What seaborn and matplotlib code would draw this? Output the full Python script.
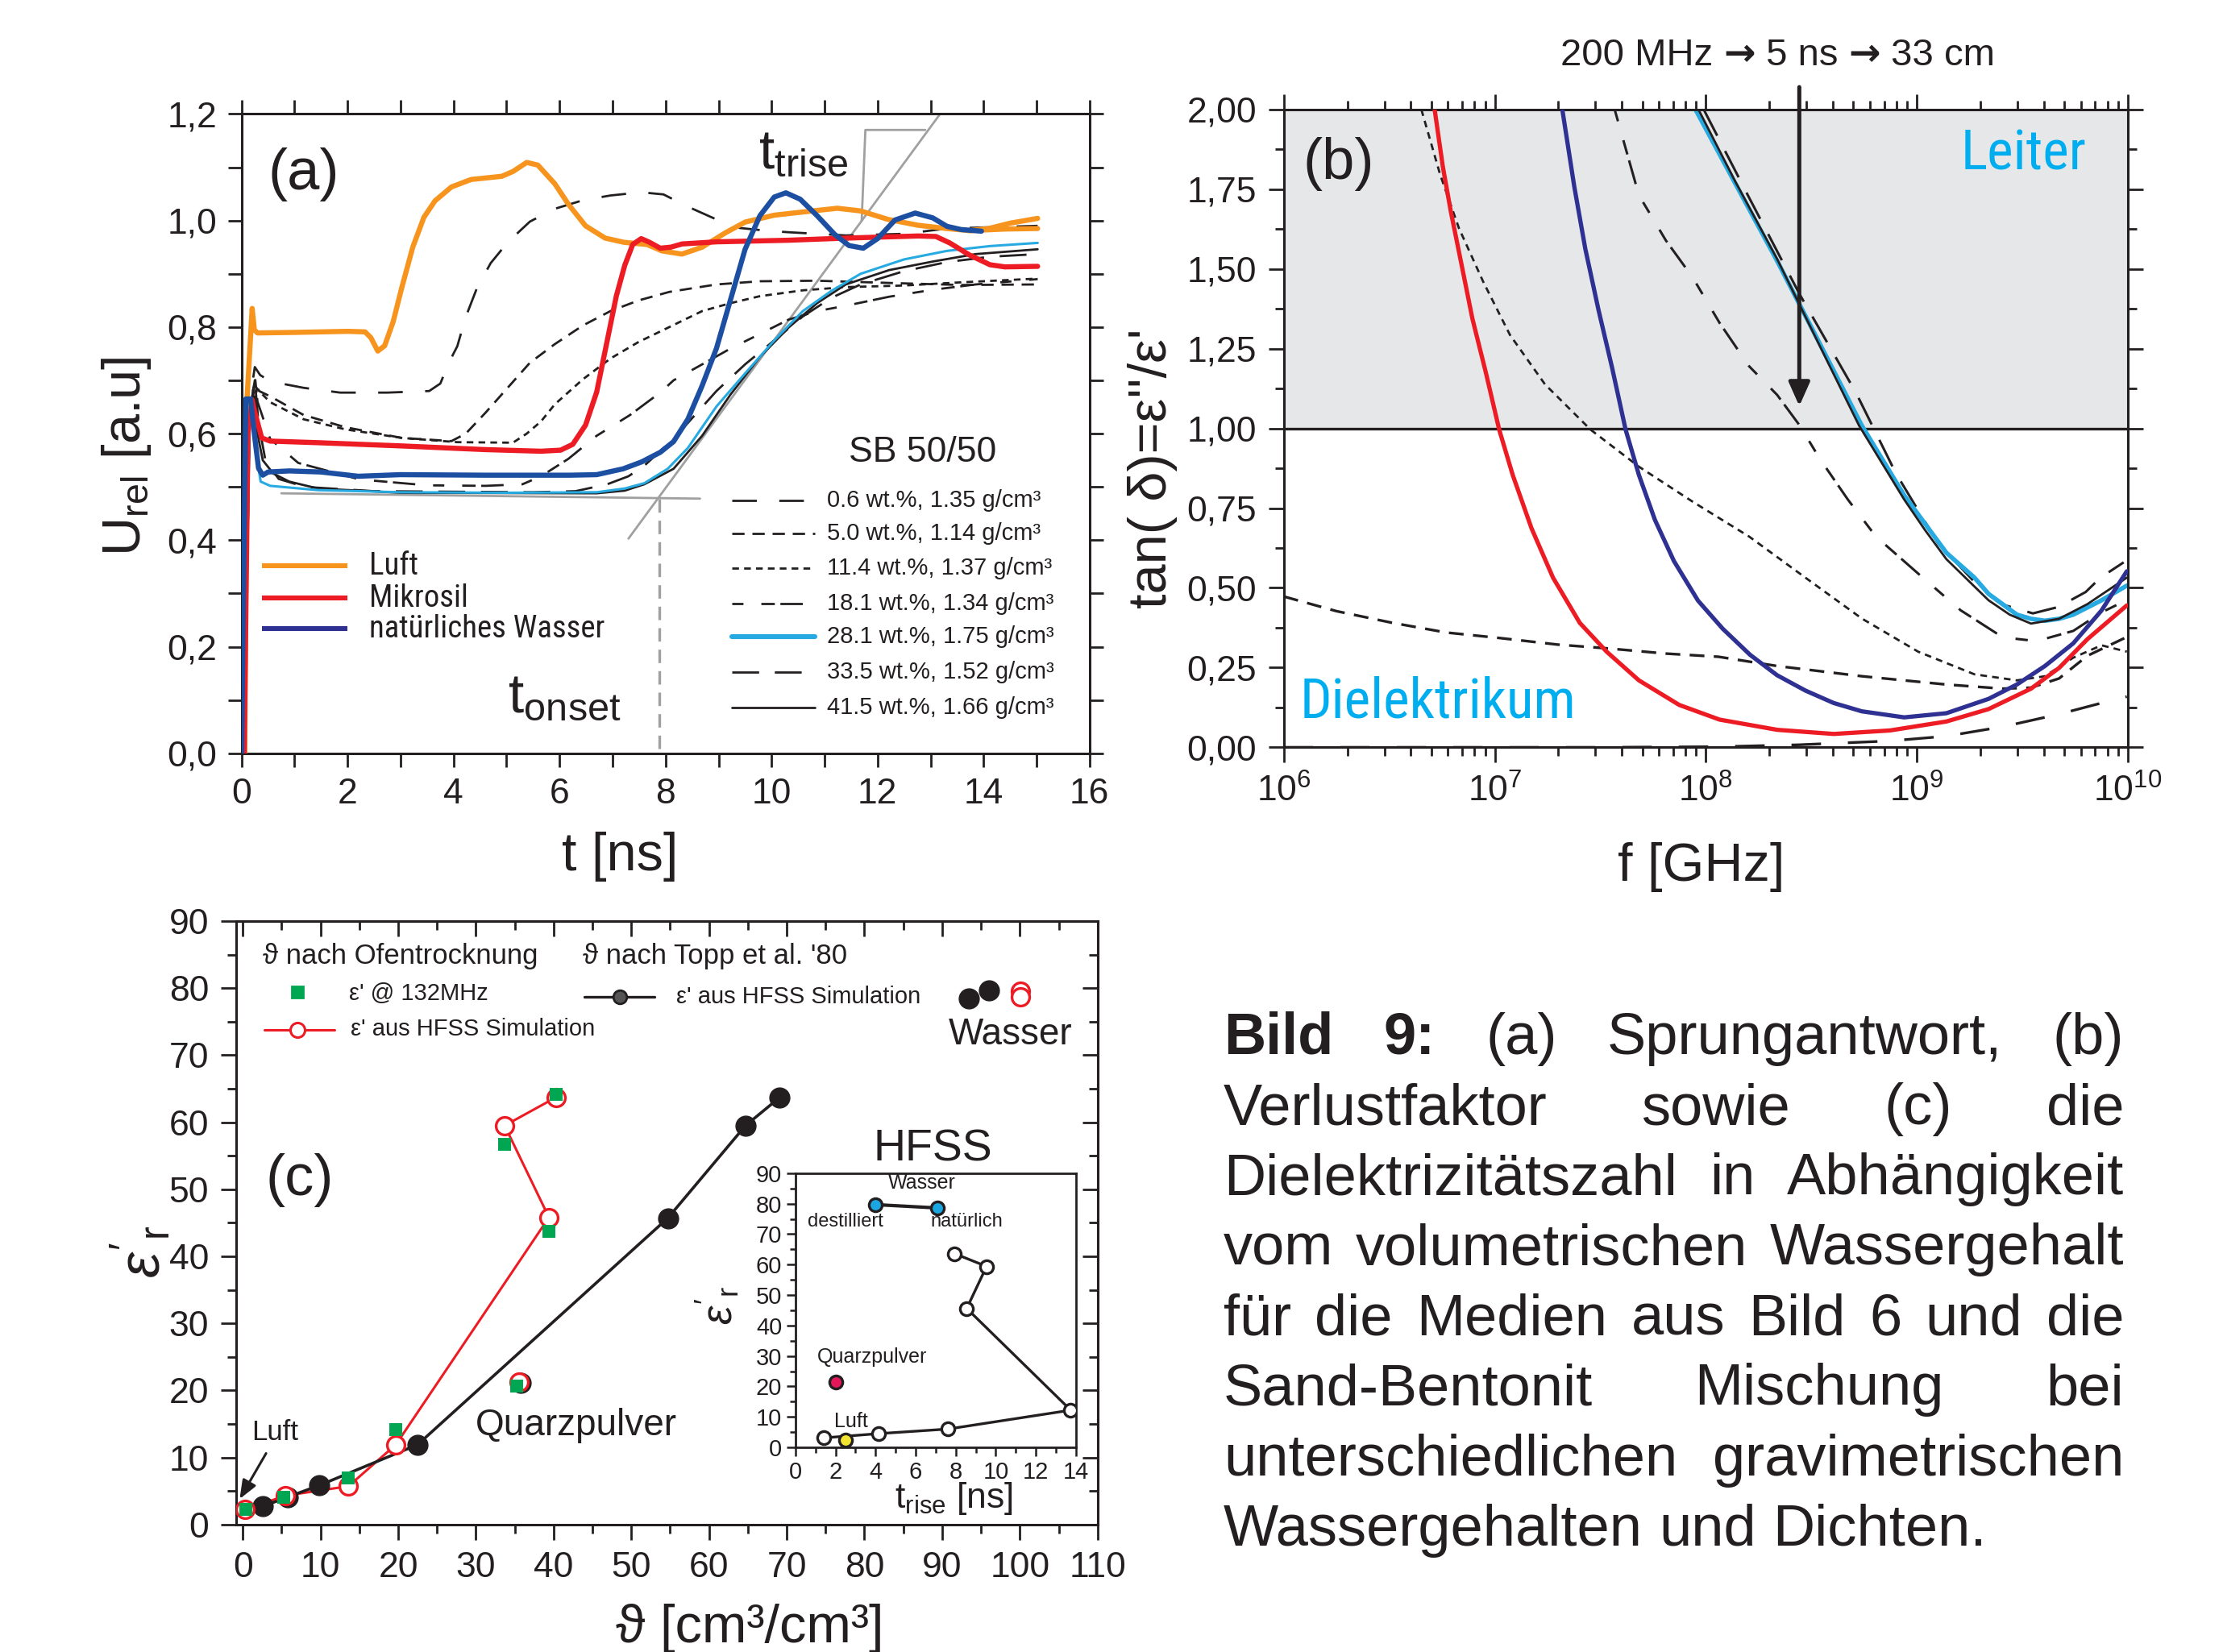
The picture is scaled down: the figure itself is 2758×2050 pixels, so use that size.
import numpy as np
import matplotlib
matplotlib.use("Agg")
import matplotlib.pyplot as plt
from matplotlib import font_manager
from matplotlib.lines import Line2D
from matplotlib.offsetbox import TextArea, HPacker, AnnotationBbox
from matplotlib.ticker import MultipleLocator, LogLocator, FuncFormatter, NullFormatter
import seaborn as sns

sns.set_theme(style="ticks")
plt.rcParams["font.family"] = ["Liberation Sans", "DejaVu Sans"]
plt.rcParams["mathtext.fontset"] = "custom"
plt.rcParams["mathtext.rm"] = "Liberation Sans"
plt.rcParams["mathtext.it"] = "Liberation Sans:italic"
plt.rcParams["mathtext.bf"] = "Liberation Sans:bold"
plt.rcParams["axes.unicode_minus"] = False

_names = {f.name for f in font_manager.fontManager.ttflist}
NARROW = next((n for n in ("Liberation Sans Narrow", "Roboto Condensed", "Open Sans Condensed")
               if n in _names), "Liberation Sans")

# ---------------------------------------------------------------- colours
INK = "#231f20"
ORANGE = "#f7941d"
RED = "#ed1c24"
BLUE_A = "#1c4fa1"
NAVY = "#2e3192"
CYAN = "#27aae1"
GREEN = "#00a651"
GREY = "#a0a0a0"
SHADE = "#e6e7e8"
TXT_CYAN = "#00aeef"

# ------------------------------------------------ (a) step response U_rel(t)
t_luft = [0.06, 0.10, 0.20, 0.24, 0.30, 1.0, 2.0, 2.33, 2.44, 2.57, 2.70, 2.86, 3.02, 3.23, 3.44,
          3.65, 3.96, 4.33, 4.91, 5.12, 5.38, 5.59, 5.91, 6.17, 6.49, 6.86, 7.22, 7.65, 7.93,
          8.31, 8.69, 9.13, 9.50, 10.05, 10.59, 11.24, 11.68, 12.20, 12.77, 13.30, 13.74,
          14.10, 14.50, 15.02]
u_luft = [0.0, 0.66, 0.835, 0.795, 0.789, 0.790, 0.792, 0.791, 0.780, 0.755, 0.765, 0.810,
          0.873, 0.950, 1.006, 1.037, 1.063, 1.077, 1.083, 1.092, 1.109, 1.104, 1.069, 1.030,
          0.990, 0.967, 0.959, 0.955, 0.943, 0.937, 0.950, 0.977, 0.997, 1.010, 1.016, 1.023,
          1.018, 1.002, 0.991, 0.985, 0.981, 0.985, 0.995, 1.004]
t_luft_b = [13.74, 14.40, 15.02]
u_luft_b = [0.981, 0.984, 0.985]

t_mikrosil = [0.05, 0.12, 0.20, 0.25, 0.38, 0.54, 1.44, 3.00, 4.60, 5.65, 6.02, 6.25, 6.49,
              6.70, 6.91, 7.07, 7.23, 7.38, 7.54, 7.70, 7.90, 8.10, 8.31, 8.96, 10.32, 11.40,
              12.77, 13.10, 13.36, 13.74, 14.12, 14.40, 15.02]
u_mikrosil = [0.0, 0.60, 0.663, 0.640, 0.592, 0.586, 0.583, 0.577, 0.570, 0.567, 0.569, 0.580,
              0.616, 0.678, 0.780, 0.858, 0.916, 0.955, 0.966, 0.959, 0.948, 0.950, 0.956,
              0.960, 0.963, 0.967, 0.971, 0.970, 0.958, 0.935, 0.917, 0.913, 0.914]

t_wasser = [0.0, 0.08, 0.17, 0.24, 0.32, 0.40, 0.50, 0.90, 1.50, 2.20, 3.00, 4.60, 6.20, 6.70,
            7.20, 7.55, 7.90, 8.15, 8.42, 8.69, 8.96, 9.23, 9.50, 9.78, 10.05, 10.27, 10.54,
            10.86, 11.19, 11.46, 11.73, 12.00, 12.33, 12.71, 13.04, 13.31, 13.58, 13.96]
u_wasser = [0.0, 0.665, 0.665, 0.600, 0.535, 0.522, 0.528, 0.530, 0.528, 0.520, 0.523, 0.522,
            0.522, 0.523, 0.534, 0.547, 0.565, 0.585, 0.627, 0.690, 0.760, 0.853, 0.946, 1.009,
            1.044, 1.052, 1.040, 1.009, 0.974, 0.953, 0.948, 0.966, 1.001, 1.014, 1.005, 0.989,
            0.983, 0.980]

t_sb06 = [0.05, 0.15, 0.25, 0.35, 0.54, 1.17, 1.86, 2.75, 3.54, 3.75, 3.91, 4.07, 4.23, 4.44,
          4.70, 5.02, 5.44, 5.91, 6.44, 6.96, 7.54, 7.96, 8.42, 8.96, 9.40, 9.89, 10.32, 11.40,
          12.50, 13.31, 15.02]
u_sb06 = [0.0, 0.66, 0.725, 0.710, 0.698, 0.686, 0.677, 0.677, 0.680, 0.694, 0.733, 0.764,
          0.819, 0.873, 0.920, 0.959, 0.998, 1.022, 1.038, 1.047, 1.053, 1.049, 1.026, 1.002,
          0.986, 0.981, 0.978, 0.972, 0.975, 0.985, 0.990]

t_sb50 = [0.05, 0.15, 0.25, 0.33, 0.54, 1.17, 1.96, 3.02, 3.96, 4.23, 4.60, 5.02, 5.44, 5.91,
          6.44, 6.96, 7.49, 8.07, 8.96, 9.78, 10.86, 12.50, 13.58, 15.02]
u_sb50 = [0.0, 0.64, 0.70, 0.68, 0.67, 0.635, 0.612, 0.592, 0.586, 0.600, 0.639, 0.686, 0.733,
          0.768, 0.803, 0.830, 0.850, 0.866, 0.880, 0.886, 0.887, 0.882, 0.879, 0.880]

t_sb114 = [0.05, 0.15, 0.25, 0.33, 0.54, 1.17, 1.96, 3.02, 4.07, 5.12, 5.38, 5.65, 5.91, 6.44,
           6.96, 7.49, 8.07, 8.69, 9.23, 9.78, 10.59, 11.40, 12.50, 13.58, 15.02]
u_sb114 = [0.0, 0.63, 0.69, 0.68, 0.659, 0.627, 0.608, 0.592, 0.584, 0.583, 0.600, 0.623, 0.655,
           0.702, 0.741, 0.772, 0.800, 0.830, 0.845, 0.858, 0.869, 0.875, 0.878, 0.884, 0.891]

t_sb181 = [0.05, 0.15, 0.25, 0.30, 0.54, 1.07, 2.23, 3.50, 4.60, 5.30, 5.65, 6.17, 6.70, 7.33,
           7.91, 8.15, 8.69, 9.23, 9.78, 10.32, 10.86, 11.40, 12.22, 13.04, 13.85, 15.02]
u_sb181 = [0.0, 0.62, 0.71, 0.66, 0.59, 0.545, 0.514, 0.503, 0.502, 0.505, 0.520, 0.553, 0.596,
           0.635, 0.678, 0.700, 0.730, 0.760, 0.787, 0.814, 0.830, 0.840, 0.857, 0.870, 0.880,
           0.890]

t_sb281 = [0.05, 0.15, 0.22, 0.28, 0.36, 0.54, 1.44, 3.00, 5.00, 6.70, 7.23, 7.60, 8.04, 8.42,
           8.96, 9.50, 10.05, 10.59, 11.13, 11.68, 12.50, 13.31, 14.12, 15.02]
u_sb281 = [0.0, 0.62, 0.655, 0.56, 0.51, 0.502, 0.494, 0.490, 0.489, 0.490, 0.497, 0.507, 0.534,
           0.573, 0.651, 0.713, 0.775, 0.830, 0.868, 0.900, 0.927, 0.943, 0.952, 0.958]

t_sb335 = [0.05, 0.15, 0.25, 0.32, 0.45, 0.70, 1.20, 2.50, 5.50, 6.30, 6.90, 7.30, 7.60, 8.15,
           8.42, 8.96, 9.50, 10.05, 10.59, 11.13, 11.68, 12.50, 13.31, 14.12, 15.02]
u_sb335 = [0.0, 0.64, 0.70, 0.62, 0.55, 0.515, 0.500, 0.492, 0.490, 0.492, 0.505, 0.520, 0.540,
           0.590, 0.620, 0.680, 0.730, 0.775, 0.820, 0.855, 0.880, 0.905, 0.922, 0.932, 0.937]

t_sb415 = [0.05, 0.15, 0.25, 0.30, 0.40, 0.60, 0.90, 1.44, 3.00, 6.70, 7.23, 7.60, 8.15, 8.69,
           9.23, 9.78, 10.32, 10.86, 11.40, 12.22, 13.04, 13.85, 15.02]
u_sb415 = [0.0, 0.62, 0.67, 0.60, 0.55, 0.525, 0.510, 0.497, 0.489, 0.488, 0.493, 0.505, 0.534,
           0.596, 0.674, 0.744, 0.799, 0.845, 0.880, 0.907, 0.923, 0.937, 0.946]

# construction lines for t_onset / t_rise
base_t = [0.75, 8.65]
base_u = [0.488, 0.478]
tangent_t = [7.30, 13.18]
tangent_u = [0.403, 1.200]
onset_t = [7.88, 7.88]
onset_u = [0.478, 0.0]
bracket_t = [11.70, 11.77, 12.90]
bracket_u = [1.000, 1.170, 1.170]

sb_labels = ["0.6 wt.%, 1.35 g/cm³", "5.0 wt.%, 1.14 g/cm³", "11.4 wt.%, 1.37 g/cm³",
             "18.1 wt.%, 1.34 g/cm³", "28.1 wt.%, 1.75 g/cm³", "33.5 wt.%, 1.52 g/cm³",
             "41.5 wt.%, 1.66 g/cm³"]
media_labels = ["Luft", "Mikrosil", "natürliches Wasser"]

# ---------------------------------------------- (b) loss tangent over log10(f)
lgf_mikrosil = [6.715, 6.754, 6.792, 6.843, 6.894, 6.957, 7.021, 7.085, 7.174, 7.276, 7.403,
                7.530, 7.683, 7.874, 8.065, 8.338, 8.606, 8.873, 9.140, 9.340, 9.541, 9.674,
                9.808, 9.995]
tan_mikrosil = [2.0, 1.82, 1.679, 1.512, 1.344, 1.177, 0.996, 0.854, 0.687, 0.532, 0.390,
                0.300, 0.210, 0.133, 0.087, 0.055, 0.042, 0.053, 0.081, 0.120, 0.184, 0.249,
                0.339, 0.445]
lgf_wasser = [7.320, 7.377, 7.429, 7.492, 7.556, 7.620, 7.683, 7.759, 7.849, 7.963, 8.080,
              8.210, 8.338, 8.472, 8.606, 8.739, 8.940, 9.140, 9.340, 9.474, 9.607, 9.741,
              9.875, 9.995]
tan_wasser = [2.0, 1.757, 1.563, 1.370, 1.190, 0.996, 0.854, 0.713, 0.584, 0.460, 0.372, 0.290,
              0.226, 0.178, 0.139, 0.113, 0.094, 0.107, 0.152, 0.197, 0.255, 0.326, 0.429,
              0.552]
lgf_sb06 = [6.0, 7.5, 8.06, 8.44, 8.87, 9.14, 9.41, 9.674, 9.875, 9.995]
tan_sb06 = [0.0, 0.0, 0.002, 0.008, 0.020, 0.035, 0.065, 0.104, 0.139, 0.159]
lgf_sb50 = [6.0, 6.25, 6.51, 6.77, 7.02, 7.30, 7.54, 7.81, 8.06, 8.338, 8.739, 9.14, 9.407,
            9.54, 9.674, 9.808, 9.995]
tan_sb50 = [0.473, 0.427, 0.391, 0.360, 0.343, 0.322, 0.310, 0.294, 0.284, 0.255, 0.223, 0.197,
            0.184, 0.187, 0.216, 0.287, 0.346]
lgf_sb114 = [6.652, 6.741, 6.830, 6.945, 7.072, 7.238, 7.454, 7.683, 7.938, 8.205, 8.472, 8.739,
             9.006, 9.273, 9.474, 9.607, 9.741, 9.875, 9.995]
tan_sb114 = [2.0, 1.796, 1.628, 1.460, 1.293, 1.138, 0.996, 0.880, 0.770, 0.661, 0.532, 0.404,
             0.300, 0.229, 0.210, 0.223, 0.281, 0.320, 0.300]
lgf_sb181 = [7.568, 7.683, 7.811, 7.938, 8.065, 8.205, 8.338, 8.445, 8.539, 8.673, 8.806, 9.006,
             9.207, 9.407, 9.567, 9.741, 9.875, 9.995]
tan_sb181 = [2.0, 1.731, 1.589, 1.473, 1.331, 1.195, 1.105, 1.009, 0.906, 0.777, 0.661, 0.545,
             0.430, 0.345, 0.333, 0.365, 0.423, 0.462]
lgf_sb281 = [7.951, 8.138, 8.338, 8.539, 8.739, 8.940, 9.140, 9.273, 9.340, 9.474, 9.541, 9.607,
             9.674, 9.741, 9.875, 9.995]
tan_sb281 = [2.0, 1.770, 1.525, 1.267, 1.009, 0.790, 0.610, 0.532, 0.481, 0.416, 0.403, 0.397,
             0.403, 0.416, 0.461, 0.507]
lgf_sb335 = [7.99, 8.20, 8.445, 8.713, 8.90, 9.10, 9.30, 9.42, 9.55, 9.67, 9.80, 9.87, 9.98]
tan_sb335 = [2.0, 1.73, 1.42, 1.11, 0.86, 0.64, 0.50, 0.445, 0.42, 0.44, 0.487, 0.532, 0.58]
lgf_sb415 = [7.965, 8.138, 8.338, 8.539, 8.726, 8.940, 9.040, 9.140, 9.340, 9.440, 9.541, 9.674,
             9.808, 9.995]
tan_sb415 = [2.0, 1.776, 1.531, 1.260, 1.009, 0.777, 0.680, 0.590, 0.461, 0.416, 0.388, 0.403,
             0.449, 0.532]
lgf_marker = 8.443          # 200 MHz -> 5 ns -> 33 cm

# ------------------------------------------ (c) permittivity vs. water content
theta_ofen_132 = [0.4, 5.3, 13.6, 19.7, 33.7, 39.4, 40.3]
eps_132 = [2.3, 4.1, 6.9, 14.2, 56.7, 43.7, 64.1]
theta_ofen_hfss = [0.3, 5.5, 13.6, 19.7, 39.4, 33.7, 40.3]
eps_ofen_hfss = [2.2, 4.3, 5.7, 11.9, 45.8, 59.5, 63.7]
theta_topp = [2.6, 5.8, 9.8, 22.5, 54.7, 64.7, 69.1]
eps_topp = [2.7, 4.1, 5.8, 11.9, 45.7, 59.5, 63.7]
quarz_theta = {"topp": 35.8, "ofen": 35.6, "132": 35.2}
quarz_eps = {"topp": 21.1, "ofen": 21.2, "132": 20.6}
wasser_theta_topp = [93.4, 96.0]
wasser_eps_topp = [78.5, 79.7]
wasser_theta_ofen = [100.1, 100.1]
wasser_eps_ofen = [79.6, 78.7]

# inset: HFSS permittivity vs. rise time
trise_sb = [1.41, 4.16, 7.61, 13.74, 8.55, 9.54, 7.95]
eps_trise_sb = [3.1, 4.5, 6.0, 12.2, 45.6, 59.4, 63.6]
trise_wasser = [3.99, 7.10]
eps_trise_wasser = [79.7, 78.6]
trise_quarz, eps_trise_quarz = [2.01], [21.4]
trise_luft, eps_trise_luft = [2.50], [2.3]

CAPTION = ["Bild 9: (a) Sprungantwort, (b)",
           "Verlustfaktor sowie (c) die",
           "Dielektrizitätszahl in Abhängigkeit",
           "vom volumetrischen Wassergehalt",
           "für die Medien aus Bild 6 und die",
           "Sand-Bentonit Mischung bei",
           "unterschiedlichen gravimetrischen",
           "Wassergehalten und Dichten."]

# ---------------------------------------------------------------- helpers
DASH_06 = (0, (11, 10))
DASH_50 = (0, (5.5, 3.5))
DASH_114 = (0, (3.0, 2.3))
DASH_181 = (0, (5, 8, 6, 2.5, 10, 8))
DASH_335 = (0, (12, 7))


def curve(ax, x, y, color, lw, ls="-", z=2):
    sns.lineplot(x=np.asarray(x, float), y=np.asarray(y, float), ax=ax, color=color,
                 linewidth=lw, linestyle=ls, sort=False, estimator=None, legend=False,
                 zorder=z)


def frame(ax, lw=1.1):
    for s in ax.spines.values():
        s.set_color(INK)
        s.set_linewidth(lw)
        s.set_visible(True)


def comma(fmt):
    return FuncFormatter(lambda v, p: format(v, fmt).replace(".", ","))


fig = plt.figure(figsize=(2758 / 200, 2050 / 200), dpi=200)
fig.patch.set_facecolor("white")

# ====================================================================== (a)
axa = fig.add_axes([0.10867, 0.54400, 0.38147, 0.38702])
axa.set_facecolor("white")
for x, y, ls in [(t_sb06, u_sb06, DASH_06), (t_sb50, u_sb50, DASH_50),
                 (t_sb114, u_sb114, DASH_114), (t_sb181, u_sb181, DASH_181),
                 (t_sb335, u_sb335, DASH_335)]:
    curve(axa, x, y, INK, 1.0, ls, z=2)
curve(axa, t_sb415, u_sb415, INK, 1.0, "-", z=2)
curve(axa, t_sb281, u_sb281, CYAN, 1.1, "-", z=2.1)
curve(axa, base_t, base_u, GREY, 1.0, "-", z=1.5)
curve(axa, tangent_t, tangent_u, GREY, 1.0, "-", z=1.5)
curve(axa, bracket_t, bracket_u, GREY, 1.0, "-", z=1.5)
curve(axa, onset_t, onset_u, GREY, 1.2, (0, (5, 3)), z=1.5)
curve(axa, t_luft, u_luft, ORANGE, 2.3, "-", z=3)
curve(axa, t_luft_b, u_luft_b, ORANGE, 2.3, "-", z=3)
curve(axa, t_mikrosil, u_mikrosil, RED, 2.3, "-", z=3.1)
curve(axa, t_wasser, u_wasser, BLUE_A, 2.3, "-", z=3.2)

axa.set_xlim(0, 16)
axa.set_ylim(0, 1.2)
axa.xaxis.set_major_locator(MultipleLocator(2))
axa.xaxis.set_minor_locator(MultipleLocator(1))
axa.yaxis.set_major_locator(MultipleLocator(0.2))
axa.yaxis.set_minor_locator(MultipleLocator(0.1))
axa.yaxis.set_major_formatter(comma(".1f"))
axa.tick_params(which="both", direction="out", top=True, right=True, color=INK,
                labelcolor=INK, labelsize=16, width=1.0, pad=5)
axa.tick_params(which="major", length=6)
axa.tick_params(which="minor", length=6)
axa.set_xlabel("")
axa.set_ylabel("")
frame(axa)
axa.text(0.446, -0.162, "t [ns]", transform=axa.transAxes, ha="center", va="center",
         fontsize=24, color=INK)
axa.text(-0.136, 0.465, r"$\mathregular{U_{rel}}$ [a.u]", transform=axa.transAxes,
         ha="center", va="center", rotation=90, fontsize=24, color=INK)
axa.text(1.17, 1.087, "(a)", ha="center", va="center", fontsize=26, color=INK)
axa.text(9.75, 1.098, r"$\mathregular{t_{trise}}$", ha="left", va="baseline", fontsize=25,
         color=INK)
axa.text(5.02, 0.077, r"$\mathregular{t_{onset}}$", ha="left", va="baseline", fontsize=25,
         color=INK)

# legend: media
for lab, col, u in zip(media_labels, [ORANGE, RED, NAVY], [0.352, 0.291, 0.234]):
    axa.add_line(Line2D([0.38, 2.0], [u, u], color=col, lw=2.2, solid_capstyle="butt"))
    axa.text(2.41, u, lab, ha="left", va="center", fontsize=14, family=NARROW, color=INK)

# legend: SB 50/50 samples
axa.text(12.85, 0.565, "SB 50/50", ha="center", va="center", fontsize=16, color=INK)
sb_styles = [(INK, 1.0, DASH_06), (INK, 1.0, DASH_50), (INK, 1.0, DASH_114),
             (INK, 1.0, DASH_181), (CYAN, 2.2, "-"), (INK, 1.0, DASH_335), (INK, 1.0, "-")]
sb_rows = [0.475, 0.413, 0.347, 0.281, 0.219, 0.153, 0.086]
for lab, (col, lw, ls), u in zip(sb_labels, sb_styles, sb_rows):
    axa.add_line(Line2D([9.25, 10.82], [u, u], color=col, lw=lw, linestyle=ls))
    axa.text(11.05, u, lab, ha="left", va="center", fontsize=10.5, color=INK)

# ====================================================================== (b)
axb = fig.add_axes([0.57748, 0.54761, 0.37973, 0.38615])
axb.set_xscale("log")
axb.set_xlim(1e6, 1e10)
axb.set_ylim(0, 2)
axb.axhspan(1.0, 2.0, color=SHADE, zorder=0, lw=0)
axb.axhline(1.0, color=INK, lw=1.2, zorder=1)


def fb(lg):
    return 10.0 ** np.asarray(lg, float)


curve(axb, fb(lgf_sb06), tan_sb06, INK, 1.2, DASH_06, z=2)
curve(axb, fb(lgf_sb50), tan_sb50, INK, 1.2, DASH_50, z=2)
curve(axb, fb(lgf_sb114), tan_sb114, INK, 1.0, DASH_114, z=2)
curve(axb, fb(lgf_sb181), tan_sb181, INK, 1.1, DASH_181, z=2)
curve(axb, fb(lgf_sb335), tan_sb335, INK, 1.1, DASH_335, z=2)
curve(axb, fb(lgf_sb415), tan_sb415, INK, 1.0, "-", z=2.2)
curve(axb, fb(lgf_sb281), tan_sb281, CYAN, 2.0, "-", z=2.1)
curve(axb, fb(lgf_mikrosil), tan_mikrosil, RED, 1.9, "-", z=3)
curve(axb, fb(lgf_wasser), tan_wasser, NAVY, 1.9, "-", z=3)

axb.xaxis.set_major_locator(LogLocator(base=10, numticks=10))
axb.xaxis.set_minor_locator(LogLocator(base=10, subs=np.arange(2, 10), numticks=50))
axb.xaxis.set_minor_formatter(NullFormatter())
axb.xaxis.set_major_formatter(FuncFormatter(
    lambda v, p: r"$\mathregular{10^{%d}}$" % int(round(np.log10(v)))))
axb.yaxis.set_major_locator(MultipleLocator(0.25))
axb.yaxis.set_minor_locator(MultipleLocator(0.125))
axb.yaxis.set_major_formatter(comma(".2f"))
axb.tick_params(which="both", direction="out", top=True, right=True, color=INK,
                labelcolor=INK, labelsize=16, width=1.0, pad=5)
axb.tick_params(which="major", length=7)
axb.tick_params(which="minor", length=4)
axb.set_xlabel("")
axb.set_ylabel("")
frame(axb)
axb.text(0.495, -0.188, "f [GHz]", transform=axb.transAxes, ha="center", va="center",
         fontsize=24, color=INK)
axb.text(-0.155, 0.4376, "tan( δ)=ε''/ε'", transform=axb.transAxes, ha="center",
         va="center", rotation=90, fontsize=24, color=INK)
axb.text(10 ** 6.26, 1.83, "(b)", ha="center", va="center", fontsize=26, color=INK)
axb.text(10 ** 9.505, 1.86, "Leiter", ha="center", va="center", fontsize=25,
         family=NARROW, color=TXT_CYAN)
axb.text(10 ** 6.73, 0.14, "Dielektrikum", ha="center", va="center", fontsize=25,
         family=NARROW, color=TXT_CYAN)

# header line: 200 MHz -> 5 ns -> 33 cm, arrows from DejaVu Sans
_plain = dict(fontsize=17, color=INK, family="Liberation Sans")
_arrow = dict(fontsize=17, color=INK, family="DejaVu Sans", fontweight="bold")
_parts = [TextArea("200 MHz ", textprops=_plain), TextArea("→", textprops=_arrow),
          TextArea(" 5 ns ", textprops=_plain), TextArea("→", textprops=_arrow),
          TextArea(" 33 cm", textprops=_plain)]
_box = HPacker(children=_parts, align="baseline", pad=0, sep=0)
axb.add_artist(AnnotationBbox(_box, (10 ** 8.34, 2.17), xycoords="data", frameon=False,
                              box_alignment=(0.5, 0.5), annotation_clip=False))
axb.annotate("", xy=(10 ** lgf_marker, 1.07), xytext=(10 ** lgf_marker, 2.07),
             arrowprops=dict(arrowstyle="-|>,head_length=0.45,head_width=0.2",
                             mutation_scale=20, color=INK, lw=1.8, shrinkA=0, shrinkB=0),
             annotation_clip=False, zorder=5)

# ====================================================================== (c)
axc = fig.add_axes([0.10606, 0.07722, 0.38767, 0.36522])
curve(axc, theta_ofen_hfss, eps_ofen_hfss, RED, 1.1, "-", z=2)
curve(axc, theta_topp, eps_topp, INK, 1.3, "-", z=2)
sns.scatterplot(x=theta_topp + [quarz_theta["topp"]] + wasser_theta_topp,
                y=eps_topp + [quarz_eps["topp"]] + wasser_eps_topp,
                ax=axc, marker="o", s=80, color=INK, edgecolor=INK, linewidth=0.5,
                zorder=3, legend=False)
sns.scatterplot(x=theta_ofen_hfss + [quarz_theta["ofen"]] + wasser_theta_ofen,
                y=eps_ofen_hfss + [quarz_eps["ofen"]] + wasser_eps_ofen,
                ax=axc, marker="o", s=62, color="white", edgecolor=RED, linewidth=1.2,
                zorder=4, legend=False)
sns.scatterplot(x=theta_ofen_132 + [quarz_theta["132"]], y=eps_132 + [quarz_eps["132"]],
                ax=axc, marker="s", s=32, color=GREEN, edgecolor=GREEN, linewidth=0,
                zorder=5, legend=False)

axc.set_xlim(-0.9, 110)
axc.set_ylim(0, 90)
axc.xaxis.set_major_locator(MultipleLocator(10))
axc.xaxis.set_minor_locator(MultipleLocator(5))
axc.yaxis.set_major_locator(MultipleLocator(10))
axc.yaxis.set_minor_locator(MultipleLocator(5))
axc.tick_params(which="both", direction="out", top=False, right=False, color=INK,
                labelcolor=INK, labelsize=16, width=1.0, pad=5)
axc.tick_params(which="major", length=7)
axc.tick_params(which="minor", length=4)
axc.set_xlabel("")
axc.set_ylabel("")
frame(axc)
_top = axc.secondary_xaxis("top")
_top.xaxis.set_major_locator(MultipleLocator(10))
_top.xaxis.set_minor_locator(MultipleLocator(5))
_right = axc.secondary_yaxis("right")
_right.yaxis.set_major_locator(MultipleLocator(10))
_right.yaxis.set_minor_locator(MultipleLocator(5))
for sec in (_top, _right):
    sec.tick_params(which="both", direction="in", color=INK, width=1.0,
                    labeltop=False, labelright=False, labelbottom=False, labelleft=False)
    sec.tick_params(which="major", length=7)
    sec.tick_params(which="minor", length=4)
    for s in sec.spines.values():
        s.set_color(INK)
        s.set_linewidth(1.1)

axc.text(0.596, -0.173, "ϑ [cm³/cm³]", transform=axc.transAxes, ha="center",
         va="center", fontsize=24, color=INK)
axc.text(-0.111, 0.452, r"$\varepsilon'_{\mathregular{r}}$", transform=axc.transAxes,
         ha="center", va="center", rotation=90, fontsize=26, color=INK)
axc.text(7.3, 51.3, "(c)", ha="center", va="center", fontsize=26, color=INK)
axc.text(42.9, 14.7, "Quarzpulver", ha="center", va="center", fontsize=16.5, color=INK)
axc.text(98.8, 73.1, "Wasser", ha="center", va="center", fontsize=16.5, color=INK)
axc.text(88.8, 55.9, "HFSS", ha="center", va="center", fontsize=20, color=INK)
axc.text(4.1, 13.7, "Luft", ha="center", va="center", fontsize=12.5, color=INK)
axc.annotate("", xy=(-0.4, 3.8), xytext=(3.0, 10.6),
             arrowprops=dict(arrowstyle="-|>,head_length=0.5,head_width=0.2",
                             mutation_scale=14, color=INK, lw=1.1, shrinkA=0, shrinkB=0))

# legend of (c)
axc.text(2.6, 84.8, "ϑ nach Ofentrocknung", ha="left", va="center", fontsize=12.5,
         color=INK)
axc.text(43.8, 84.8, "ϑ nach Topp et al. '80", ha="left", va="center", fontsize=12.5,
         color=INK)
axc.add_line(Line2D([7.0], [79.4], marker="s", ms=5, color=GREEN, lw=0))
axc.text(13.7, 79.2, "ε' @ 132MHz", ha="left", va="center", fontsize=10.5, color=INK)
axc.add_line(Line2D([44.0, 53.0], [78.7, 78.7], color=INK, lw=1.2))
axc.add_line(Line2D([48.5], [78.7], marker="o", ms=6, color=INK, mfc="#555555", lw=0))
axc.text(55.8, 78.7, "ε' aus HFSS Simulation", ha="left", va="center", fontsize=10.5,
         color=INK)
axc.add_line(Line2D([2.8, 11.8], [73.8, 73.8], color=RED, lw=1.1))
axc.add_line(Line2D([7.0], [73.8], marker="o", ms=6.5, color=RED, mfc="white", mew=1.1,
                    lw=0))
axc.text(13.9, 73.9, "ε' aus HFSS Simulation", ha="left", va="center", fontsize=10.5,
         color=INK)

# ---------------------------------------------------------------- inset
axi = fig.add_axes([0.3578, 0.1239, 0.1262, 0.1659])
axi.set_facecolor("white")
curve(axi, trise_sb, eps_trise_sb, INK, 1.2, "-", z=2)
curve(axi, trise_wasser, eps_trise_wasser, INK, 1.5, "-", z=2)
sns.scatterplot(x=trise_sb, y=eps_trise_sb, ax=axi, marker="o", s=34, color="white",
                edgecolor=INK, linewidth=1.2, zorder=3, legend=False)
sns.scatterplot(x=trise_wasser, y=eps_trise_wasser, ax=axi, marker="o", s=34,
                color="#1ba6e1", edgecolor=INK, linewidth=1.2, zorder=3, legend=False)
sns.scatterplot(x=trise_quarz, y=eps_trise_quarz, ax=axi, marker="o", s=34,
                color="#e3175a", edgecolor=INK, linewidth=1.2, zorder=3, legend=False)
sns.scatterplot(x=trise_luft, y=eps_trise_luft, ax=axi, marker="o", s=34,
                color="#f4e432", edgecolor=INK, linewidth=1.2, zorder=4, legend=False)
axi.set_xlim(0, 14)
axi.set_ylim(0, 90)
axi.xaxis.set_major_locator(MultipleLocator(2))
axi.xaxis.set_minor_locator(MultipleLocator(1))
axi.yaxis.set_major_locator(MultipleLocator(10))
axi.yaxis.set_minor_locator(MultipleLocator(5))
axi.tick_params(which="both", direction="out", color=INK, labelcolor=INK, labelsize=10.5,
                width=0.9, pad=2)
axi.tick_params(which="major", length=4)
axi.tick_params(which="minor", length=2.5)
axi.set_xlabel("")
axi.set_ylabel("")
frame(axi, 1.0)
axi.text(0.566, -0.188, r"$\mathregular{t_{rise}}$ [ns]", transform=axi.transAxes,
         ha="center", va="center", fontsize=16, color=INK)
axi.text(-0.275, 0.518, r"$\varepsilon'_{\mathregular{r}}$", transform=axi.transAxes,
         ha="center", va="center", rotation=90, fontsize=19, color=INK)
axi.text(6.3, 86.7, "Wasser", ha="center", va="center", fontsize=9, color=INK)
axi.text(2.48, 74.0, "destilliert", ha="center", va="center", fontsize=8.5, color=INK)
axi.text(8.54, 74.0, "natürlich", ha="center", va="center", fontsize=8.5, color=INK)
axi.text(3.85, 29.7, "Quarzpulver", ha="center", va="center", fontsize=9, color=INK)
axi.text(2.79, 8.6, "Luft", ha="center", va="center", fontsize=9, color=INK)

# ---------------------------------------------------------------- caption
renderer = fig.canvas.get_renderer()
W, H = fig.bbox.width, fig.bbox.height
cap_left, cap_right = 1518.0, 2635.0
cap_base0, cap_step = 1308.0, 87.1


def words_of(i, line):
    ws = line.split(" ")
    return [(w, "bold" if (i == 0 and k < 2) else "normal") for k, w in enumerate(ws)]


def text_w(s, weight, size):
    t = fig.text(0, 0, s, fontsize=size, fontweight=weight)
    w = t.get_window_extent(renderer).width
    t.remove()
    return w


size = 26.0
space = text_w("a a", "normal", size) - text_w("aa", "normal", size)
widest = max(sum(text_w(w, wt, size) for w, wt in words_of(i, ln)) + space * (len(ln.split()) - 1)
             for i, ln in enumerate(CAPTION[:-1]))
if widest > cap_right - cap_left:
    size *= (cap_right - cap_left) / widest
    space = text_w("a a", "normal", size) - text_w("aa", "normal", size)

for i, ln in enumerate(CAPTION):
    toks = words_of(i, ln)
    widths = [text_w(w, wt, size) for w, wt in toks]
    if i < len(CAPTION) - 1 and len(toks) > 1:
        gap = (cap_right - cap_left - sum(widths)) / (len(toks) - 1)
    else:
        gap = space
    x = cap_left
    yb = cap_base0 + i * cap_step
    for (w, wt), wd in zip(toks, widths):
        fig.text(x / W, 1 - yb / H, w, fontsize=size, fontweight=wt, ha="left",
                 va="baseline", color=INK)
        x += wd + gap

fig.savefig("out.png", dpi=200, facecolor="white")
